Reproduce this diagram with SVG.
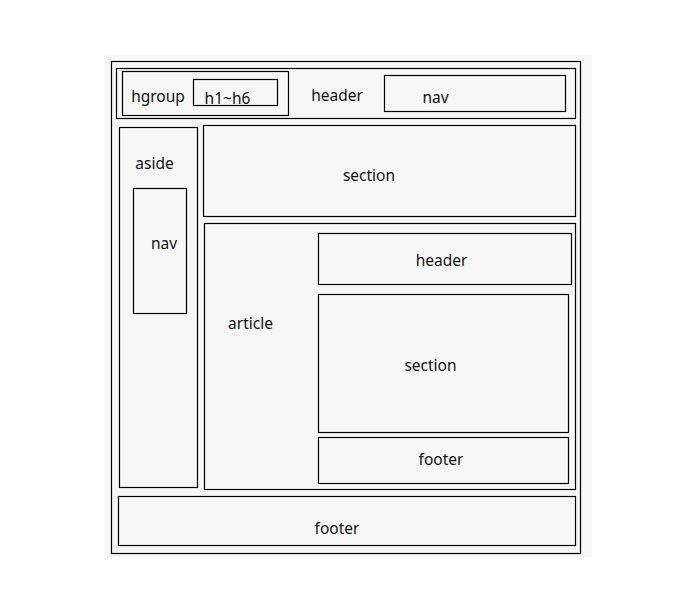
<svg xmlns="http://www.w3.org/2000/svg" width="696" height="612" viewBox="0 0 696 612">
<style>
rect.b{fill:none;stroke:#000;stroke-width:1.2}
text{font-family:"Noto Sans","DejaVu Sans",sans-serif;font-size:15.5px;fill:#111;text-anchor:middle}
</style>
<rect width="696" height="612" fill="#fff"/>
<rect x="105" y="55" width="487" height="502" fill="#f7f7f7"/>
<g id="page"><rect class="b" x="111.5" y="61.5" width="469" height="492"/></g>
<g id="header"><rect class="b" x="116.5" y="68.5" width="459" height="50"/><text x="337" y="101">header</text></g>
<g id="hgroup"><rect class="b" x="122.5" y="71.5" width="166" height="44"/><text x="158" y="102">hgroup</text></g>
<g id="h1h6"><rect class="b" x="193.5" y="79.5" width="84" height="26"/><text x="227.5" y="104">h1~h6</text></g>
<g id="header-nav"><rect class="b" x="384.5" y="75.5" width="181" height="36"/><text x="435.5" y="103">nav</text></g>
<g id="aside"><rect class="b" x="119.5" y="127.5" width="78" height="360"/><text x="154.5" y="169">aside</text></g>
<g id="aside-nav"><rect class="b" x="133.5" y="188.5" width="53" height="125"/><text x="164" y="249">nav</text></g>
<g id="section"><rect class="b" x="203.5" y="125.5" width="372" height="91"/><text x="369" y="181">section</text></g>
<g id="article"><rect class="b" x="204.5" y="223.5" width="371" height="266"/><text x="250.5" y="329">article</text></g>
<g id="article-header"><rect class="b" x="318.5" y="233.5" width="253" height="51"/><text x="441.5" y="266">header</text></g>
<g id="article-section"><rect class="b" x="318.5" y="294.5" width="250" height="138"/><text x="430.5" y="371">section</text></g>
<g id="article-footer"><rect class="b" x="318.5" y="437.5" width="250" height="46"/><text x="441" y="465">footer</text></g>
<g id="footer"><rect class="b" x="118.5" y="496.5" width="457" height="49"/><text x="337" y="534">footer</text></g>
<g id="connectors"></g>
</svg>
